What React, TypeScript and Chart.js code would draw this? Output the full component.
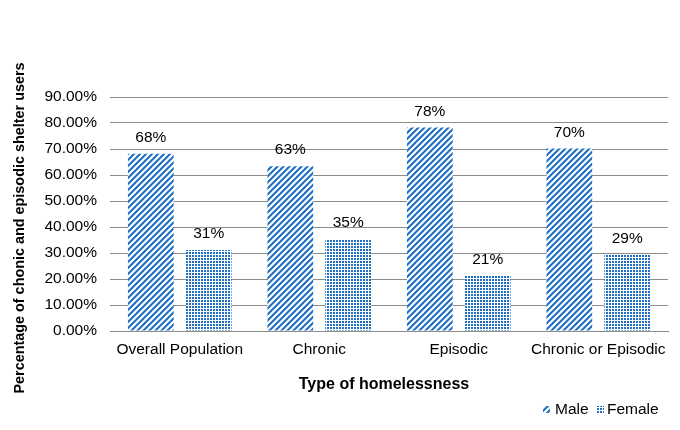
import { useEffect, useRef } from 'react';
import { Chart, registerables } from 'chart.js';

Chart.register(...registerables);

const categories = ['Overall Population', 'Chronic', 'Episodic', 'Chronic or Episodic'];
const seriesNames = ['Male', 'Female'];
const maleValues = [0.682, 0.634, 0.783, 0.702];
const femaleValues = [0.312, 0.354, 0.214, 0.294];
const yMin = 0;
const yMax = 0.9;
const yStep = 0.1;
const xTitle = 'Type of homelessness';
const yTitle = 'Percentage of chonic and episodic shelter users';

const BLUE = '#1f6fc4';
const FONT = "'Liberation Sans', Arial, sans-serif";

function makeStripe(): CanvasPattern | string {
  const s = 6;
  const c = document.createElement('canvas');
  c.width = s;
  c.height = s;
  const g = c.getContext('2d');
  if (!g) return BLUE;
  g.fillStyle = '#ffffff';
  g.fillRect(0, 0, s, s);
  g.strokeStyle = BLUE;
  g.lineWidth = 2.1;
  g.beginPath();
  g.moveTo(0, s);
  g.lineTo(s, 0);
  g.moveTo(-2, 2);
  g.lineTo(2, -2);
  g.moveTo(s - 2, s + 2);
  g.lineTo(s + 2, s - 2);
  g.stroke();
  return g.createPattern(c, 'repeat') || BLUE;
}

function makeDots(): CanvasPattern | string {
  const s = 3;
  const c = document.createElement('canvas');
  c.width = s;
  c.height = s;
  const g = c.getContext('2d');
  if (!g) return BLUE;
  g.fillStyle = '#ffffff';
  g.fillRect(0, 0, s, s);
  g.fillStyle = BLUE;
  g.fillRect(0, 0, 2, 2);
  return g.createPattern(c, 'repeat') || BLUE;
}

export default function App() {
  const ref = useRef<HTMLCanvasElement | null>(null);

  useEffect(() => {
    document.body.style.margin = '0';
    const canvas = ref.current;
    if (!canvas) return;
    const stripe = makeStripe();
    const dots = makeDots();
    const fills = [stripe, dots];

    const labelsPlugin = {
      id: 'customText',
      afterDatasetsDraw(chart: any) {
        const ctx = chart.ctx;
        ctx.save();
        ctx.fillStyle = '#000';
        ctx.font = `15.5px ${FONT}`;
        ctx.textAlign = 'center';
        ctx.textBaseline = 'middle';
        chart.data.datasets.forEach((ds: any, di: number) => {
          const meta = chart.getDatasetMeta(di);
          meta.data.forEach((bar: any, i: number) => {
            const v = ds.data[i] as number;
            ctx.fillText(Math.round(v * 100) + '%', bar.x, bar.y - 16);
          });
        });
        ctx.restore();
      },
      afterDraw(chart: any) {
        const ctx = chart.ctx;
        ctx.save();
        ctx.fillStyle = '#000';
        ctx.textBaseline = 'middle';
        ctx.font = `bold 16px ${FONT}`;
        ctx.textAlign = 'center';
        ctx.fillText(xTitle, 384, 385);
        ctx.save();
        ctx.translate(20, 228);
        ctx.rotate(-Math.PI / 2);
        ctx.font = `bold 14.4px ${FONT}`;
        ctx.fillText(yTitle, 0, 0);
        ctx.restore();
        ctx.font = `15.5px ${FONT}`;
        ctx.textAlign = 'left';
        const items = [
          { x: 543, tx: 555 },
          { x: 597, tx: 607 },
        ];
        items.forEach((it, i) => {
          ctx.fillStyle = fills[i] as any;
          ctx.fillRect(it.x, 406, 7, 7);
          ctx.fillStyle = '#000';
          ctx.fillText(seriesNames[i], it.tx, 410);
        });
        ctx.restore();
      },
    };

    const chart = new Chart(canvas, {
      type: 'bar',
      data: {
        labels: categories,
        datasets: [
          {
            label: seriesNames[0],
            data: maleValues,
            backgroundColor: stripe as any,
            borderWidth: 0,
            categoryPercentage: 0.83,
            barPercentage: 0.79,
          },
          {
            label: seriesNames[1],
            data: femaleValues,
            backgroundColor: dots as any,
            borderWidth: 0,
            categoryPercentage: 0.83,
            barPercentage: 0.79,
          },
        ],
      },
      options: {
        responsive: false,
        animation: false,
        devicePixelRatio: 1,
        layout: { padding: { top: 97, right: 12, left: 0, bottom: 0 } },
        plugins: {
          legend: { display: false },
          tooltip: { enabled: false },
        },
        scales: {
          x: {
            grid: { display: false, drawTicks: false },
            border: { display: true, color: '#8c8c8c', width: 1 },
            ticks: {
              color: '#000',
              font: { size: 15.5, family: FONT },
              padding: 9,
              maxRotation: 0,
              autoSkip: false,
            },
            afterFit(scale: any) {
              scale.height = 99;
            },
          },
          y: {
            min: yMin,
            max: yMax,
            grid: { color: '#8c8c8c', lineWidth: 1, drawTicks: false },
            border: { display: false },
            ticks: {
              stepSize: yStep,
              color: '#000',
              font: { size: 15.5, family: FONT },
              padding: 13,
              callback: (v: any) => (Number(v) * 100).toFixed(2) + '%',
            },
            afterFit(scale: any) {
              scale.width = 110;
            },
          },
        },
      },
      plugins: [labelsPlugin],
    });
    return () => chart.destroy();
  }, []);

  return (
    <div style={{ width: 680, height: 430 }}>
      <canvas ref={ref} width={680} height={430} />
    </div>
  );
}
